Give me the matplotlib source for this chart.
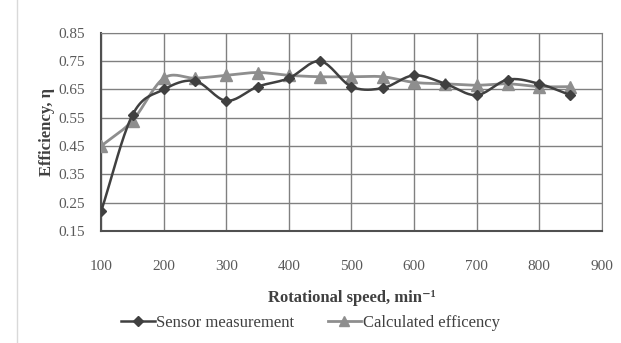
import numpy as np
import matplotlib as mpl
mpl.use('Agg')
import matplotlib.pyplot as plt
from matplotlib.lines import Line2D

speed = [100, 150, 200, 250, 300, 350, 400, 450, 500, 550, 600, 650, 700, 750, 800, 850]
sensor = [0.22, 0.56, 0.65, 0.68, 0.61, 0.66, 0.69, 0.75, 0.66, 0.655, 0.70, 0.67, 0.63, 0.685, 0.67, 0.63]
calculated = [0.45, 0.54, 0.69, 0.69, 0.70, 0.71, 0.70, 0.695, 0.695, 0.695, 0.675, 0.67, 0.665, 0.67, 0.66, 0.66]

x_ticks = [100, 200, 300, 400, 500, 600, 700, 800, 900]
y_ticks = [0.15, 0.25, 0.35, 0.45, 0.55, 0.65, 0.75, 0.85]


def smooth(x, y, n=20):
    # Catmull-Rom curve through the points, like Excel's smoothed line
    x = np.asarray(x, float)
    y = np.asarray(y, float)
    px = np.concatenate([[2*x[0]-x[1]], x, [2*x[-1]-x[-2]]])
    py = np.concatenate([[2*y[0]-y[1]], y, [2*y[-1]-y[-2]]])
    xs, ys = [], []
    t = np.linspace(0, 1, n)
    for i in range(1, len(px)-2):
        for p, out in ((px, xs), (py, ys)):
            p0, p1, p2, p3 = p[i-1], p[i], p[i+1], p[i+2]
            out.extend(0.5*((2*p1) + (-p0+p2)*t + (2*p0-5*p1+4*p2-p3)*t**2 + (-p0+3*p1-3*p2+p3)*t**3))
    return xs, ys


plt.rcParams['font.family'] = ['Liberation Serif', 'DejaVu Serif']

fig = plt.figure(figsize=(6.21, 3.43), dpi=100)
ax = fig.add_axes([0.163, 0.327, 0.806, 0.577])

c_sensor = '#404040'
c_calc = '#8e8e8e'

sx, sy = smooth(speed, sensor)
cx, cy = smooth(speed, calculated)
ax.plot(cx, cy, color=c_calc, lw=2, zorder=3)
ax.plot(speed, calculated, '^', color=c_calc, ms=8, zorder=4)
ax.plot(sx, sy, color=c_sensor, lw=1.8, zorder=5)
ax.plot(speed, sensor, 'D', color=c_sensor, ms=5.5, zorder=6)

ax.set_xlim(100, 900)
ax.set_ylim(0.15, 0.85)
ax.set_xticks(x_ticks)
ax.set_yticks(y_ticks)
ax.set_yticklabels(['%.2f' % v for v in y_ticks])
ax.grid(True, color='#808080', lw=1)
ax.set_axisbelow(True)
for s in ax.spines.values():
    s.set_color('#808080')
ax.spines['bottom'].set_color('#505050')
ax.spines['bottom'].set_linewidth(1.5)
ax.spines['left'].set_color('#505050')
ax.spines['left'].set_linewidth(1.5)
ax.tick_params(length=0, labelsize=11, labelcolor='#595959')
ax.tick_params(axis='x', pad=21)
ax.tick_params(axis='y', pad=12)

ax.set_xlabel('Rotational speed, min\u207b\u00b9', fontsize=12, fontweight='bold', color='#404040', labelpad=12)
ax.set_ylabel('Efficiency, η', fontsize=12, fontweight='bold', color='#404040', labelpad=2)

handles = [Line2D([], [], color=c_sensor, lw=1.8, marker='D', ms=5),
           Line2D([], [], color=c_calc, lw=2, marker='^', ms=7)]
fig.legend(handles, ['Sensor measurement', 'Calculated efficency'], loc='center',
           bbox_to_anchor=(0.5, 0.058), ncol=2, frameon=False, fontsize=12,
           handlelength=2.0, handletextpad=0.1, columnspacing=2.0, labelcolor='#404040')

fig.add_artist(Line2D([0.027, 0.027], [0.0, 1.0], color='#d9d9d9', lw=1, transform=fig.transFigure))

plt.savefig('out.png', dpi=100)
